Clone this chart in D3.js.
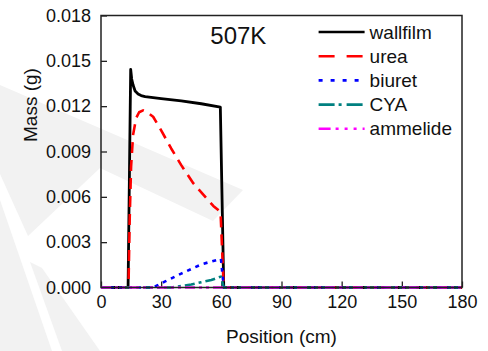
<!DOCTYPE html>
<html>
<head>
<meta charset="utf-8">
<script src="https://cdn.jsdelivr.net/npm/d3@7"></script>
<style>
  html, body { margin: 0; padding: 0; background: #fff; }
  svg { display: block; font-family: "Liberation Sans", Arial, sans-serif; }
</style>
</head>
<body>
<svg id="chart" width="488" height="351"></svg>
<script>
// Mass of wall film and deposit species along the pipe (507 K case)
const xTicks = [0, 30, 60, 90, 120, 150, 180];
const yTicks = [0, 0.003, 0.006, 0.009, 0.012, 0.015, 0.018];

const wallfilmPos  = [0, 13.5, 14.8, 15.3, 16, 17, 18.5, 20, 22, 25, 30, 40, 50, 59.5, 61.2, 180];
const wallfilmMass = [0, 0, 0.01443, 0.0138, 0.0134, 0.0130, 0.0128, 0.0127, 0.01263, 0.01258, 0.0125, 0.01235, 0.01216, 0.01194, 0, 0];

const ureaPos  = [0, 13.7, 14.3, 15, 16, 17.5, 19, 21, 23, 26, 30, 35, 40, 46, 52, 56, 59.6, 61.2, 180];
const ureaMass = [0, 0, 0.0045, 0.0080, 0.0101, 0.0112, 0.0116, 0.01172, 0.0116, 0.0113, 0.0104, 0.0092, 0.0081, 0.0069, 0.0060, 0.0054, 0.0050, 0, 0];

const biuretPos  = [0, 26, 28, 32, 40, 50, 58, 59.8, 61.2, 180];
const biuretMass = [0, 0, 0.00013, 0.0004, 0.00092, 0.00153, 0.00183, 0.0019, 0, 0];

const cyaPos  = [0, 35, 40, 45, 50, 55, 59.8, 61.2, 180];
const cyaMass = [0, 0, 0.0001, 0.0002, 0.00035, 0.0005, 0.00072, 0, 0];

const ammelidePos  = [0, 180];
const ammelideMass = [0, 0];

const seriesNames = ["wallfilm", "urea", "biuret", "CYA", "ammelide"];

const series = [
  { name: seriesNames[0], pos: wallfilmPos, mass: wallfilmMass, color: "#000000", dash: null, legendDash: null, width: 2.8 },
  { name: seriesNames[1], pos: ureaPos, mass: ureaMass, color: "#ff0000", dash: "11,7", legendDash: "16,12", width: 2.6 },
  { name: seriesNames[2], pos: biuretPos, mass: biuretMass, color: "#0000ff", dash: "4,5", legendDash: "4,8", width: 2.6 },
  { name: seriesNames[3], pos: cyaPos, mass: cyaMass, color: "#008080", dash: "10,4,3,4", legendDash: "16,4,3,5", width: 2.6 },
  { name: seriesNames[4], pos: ammelidePos, mass: ammelideMass, color: "#ff00ff", dash: "10,4,3,4,3,4", legendDash: "12,5,3,6,3,6,3,6", width: 2.6 }
];

const svg = d3.select("#chart");
const W = 488, H = 351;
const margin = { left: 101, right: 26, top: 15.5, bottom: 63.5 };
const plotW = W - margin.left - margin.right;
const plotH = H - margin.top - margin.bottom;

// faint background watermark
const wm = svg.append("g").attr("fill", "#f2f2f2");
wm.append("polygon").attr("points", "0,85 243,190 213,221 100,168 28,236 0,174");
wm.append("polygon").attr("points", "0,200 0,351 52,351");
wm.append("polygon").attr("points", "30,262 42,268 100,351 62,351");

const g = svg.append("g").attr("transform", `translate(${margin.left},${margin.top})`);

const x = d3.scaleLinear().domain([0, 180]).range([0, plotW]);
const y = d3.scaleLinear().domain([0, 0.018]).range([plotH, 0]);

// axes with inward ticks
const xAxis = d3.axisBottom(x).tickValues(xTicks).tickSizeInner(-6).tickSizeOuter(0).tickPadding(8).tickFormat(d3.format("d"));
const yAxis = d3.axisLeft(y).tickValues(yTicks).tickSizeInner(-6).tickSizeOuter(0).tickPadding(10).tickFormat(d3.format(".3f"));

const gx = g.append("g").attr("transform", `translate(0,${plotH})`).call(xAxis);
const gy = g.append("g").call(yAxis);
[gx, gy].forEach(a => {
  a.select(".domain").remove();
  a.selectAll(".tick line").attr("stroke", "#222").attr("stroke-width", 1.3);
  a.selectAll(".tick text").attr("fill", "#111").style("font-size", "18px");
});

// data lines
const line = d3.line().x(d => x(d[0])).y(d => y(d[1]));
series.forEach(s => {
  const pts = s.pos.map((p, i) => [p, s.mass[i]]);
  g.append("path")
    .datum(pts)
    .attr("fill", "none")
    .attr("stroke", s.color)
    .attr("stroke-width", s.width)
    .attr("stroke-linejoin", "round")
    .attr("stroke-dasharray", s.dash)
    .attr("d", line);
});

// plot frame
g.append("rect")
  .attr("x", 0).attr("y", 0).attr("width", plotW).attr("height", plotH)
  .attr("fill", "none").attr("stroke", "#222").attr("stroke-width", 1.5);

// temperature label
g.append("text")
  .attr("x", x(54.5)).attr("y", 28)
  .style("font-size", "24px").attr("fill", "#111")
  .text("507K");

// legend
const legend = g.append("g").attr("transform", `translate(${x(108.5)},${16.5})`);
series.forEach((s, i) => {
  const row = legend.append("g").attr("transform", `translate(0,${i * 24.2})`);
  row.append("line")
    .attr("x1", 0).attr("x2", 46).attr("y1", 0).attr("y2", 0)
    .attr("stroke", s.color).attr("stroke-width", 2.6)
    .attr("stroke-dasharray", s.legendDash);
  row.append("text")
    .attr("x", 51).attr("y", 0).attr("dy", "0.35em")
    .style("font-size", "19px").attr("fill", "#111")
    .text(s.name);
});

// axis titles
svg.append("text")
  .attr("x", margin.left + plotW / 2).attr("y", 343)
  .attr("text-anchor", "middle").style("font-size", "19px").attr("fill", "#111")
  .text("Position (cm)");

svg.append("text")
  .attr("transform", "translate(37,105) rotate(-90)")
  .attr("text-anchor", "middle").style("font-size", "19px").attr("fill", "#111")
  .text("Mass (g)");
</script>
</body>
</html>
